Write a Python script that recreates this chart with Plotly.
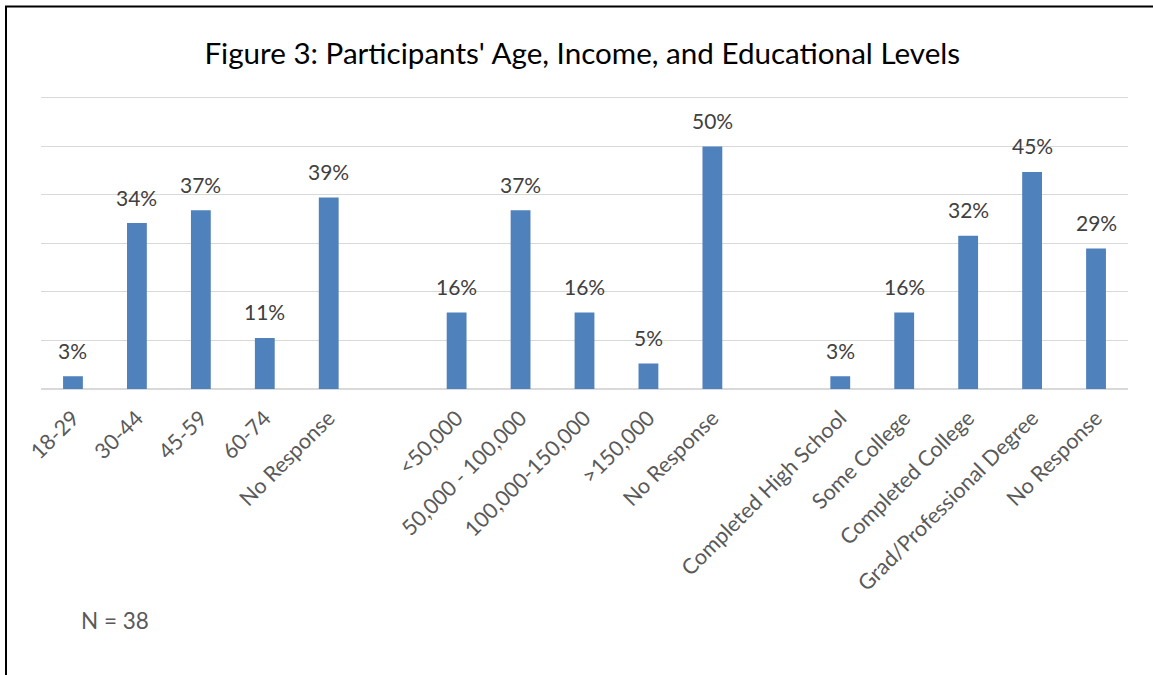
import plotly.graph_objects as go

age_labels = ["18-29", "30-44", "45-59", "60-74", "No Response"]
age_values = [2.63, 34.21, 36.84, 10.53, 39.47]
income_labels = ["<50,000", "50,000 - 100,000", "100,000-150,000", ">150,000", "No Response"]
income_values = [15.79, 36.84, 15.79, 5.26, 50.0]
edu_labels = ["Completed High School", "Some College", "Completed College",
              "Grad/Professional Degree", "No Response"]
edu_values = [2.63, 15.79, 31.58, 44.74, 28.95]

labels = age_labels + [""] + income_labels + [""] + edu_labels
values = age_values + [None] + income_values + [None] + edu_values
xs = list(range(len(labels)))

FONT = "Lato"
W, H = 1153, 675
l, r, t, b = 41, 25, 93, 286
pw, ph = W - l - r, H - t - b


def px(xp):
    return (xp - l) / pw


def py(yp):
    return (H - b - yp) / ph


fig = go.Figure()
fig.add_trace(go.Bar(
    x=xs, y=values,
    marker=dict(color="#4f81bd", line=dict(width=0)),
    cliponaxis=False, hoverinfo="skip",
))

# data labels
for xv, v in zip(xs, values):
    if v is None:
        continue
    fig.add_annotation(x=xv, y=v, xref="x", yref="y", text=f"{round(v):.0f}%",
                       showarrow=False, yanchor="middle", yshift=26,
                       font=dict(family=FONT, size=21, color="#404040"))

fig.update_layout(
    width=W, height=H,
    margin=dict(l=l, r=r, t=t, b=b),
    paper_bgcolor="white", plot_bgcolor="white",
    bargap=0.69,
    showlegend=False,
    title=dict(text="Figure 3: Participants' Age, Income, and Educational Levels",
               x=0.505, xanchor="center", y=0.921, yanchor="middle",
               font=dict(family=FONT, size=29.6, color="#000000")),
    xaxis=dict(tickmode="array", tickvals=xs, ticktext=labels, tickangle=-45,
               range=[-0.5, len(labels) - 0.5], showgrid=False, showline=False,
               zeroline=False, ticks="outside", ticklen=7,
               tickcolor="rgba(0,0,0,0)", automargin=False,
               tickfont=dict(family=FONT, size=21.5, color="#595959")),
    yaxis=dict(range=[0, 61], tickmode="array", tickvals=[0, 10, 20, 30, 40, 50, 60],
               showticklabels=False, showgrid=True,
               gridcolor="#d9d9d9", gridwidth=1, zeroline=True,
               zerolinecolor="#d9d9d9", zerolinewidth=1.5, showline=False,
               ticks="", automargin=False),
)

fig.add_annotation(text="N = 38", x=px(79), y=py(620), xref="paper", yref="paper",
                   xanchor="left", yanchor="middle", showarrow=False,
                   font=dict(family=FONT, size=22.5, color="#595959"))
fig.add_shape(type="line", xref="paper", yref="paper",
              x0=px(6), x1=px(6), y0=py(6), y1=py(680), line=dict(color="black", width=2))
fig.add_shape(type="line", xref="paper", yref="paper",
              x0=px(5), x1=px(1160), y0=py(6.5), y1=py(6.5), line=dict(color="black", width=2))

fig.write_html("out.html", post_script="document.body.style.margin='0';",
               config={"displayModeBar": False})
